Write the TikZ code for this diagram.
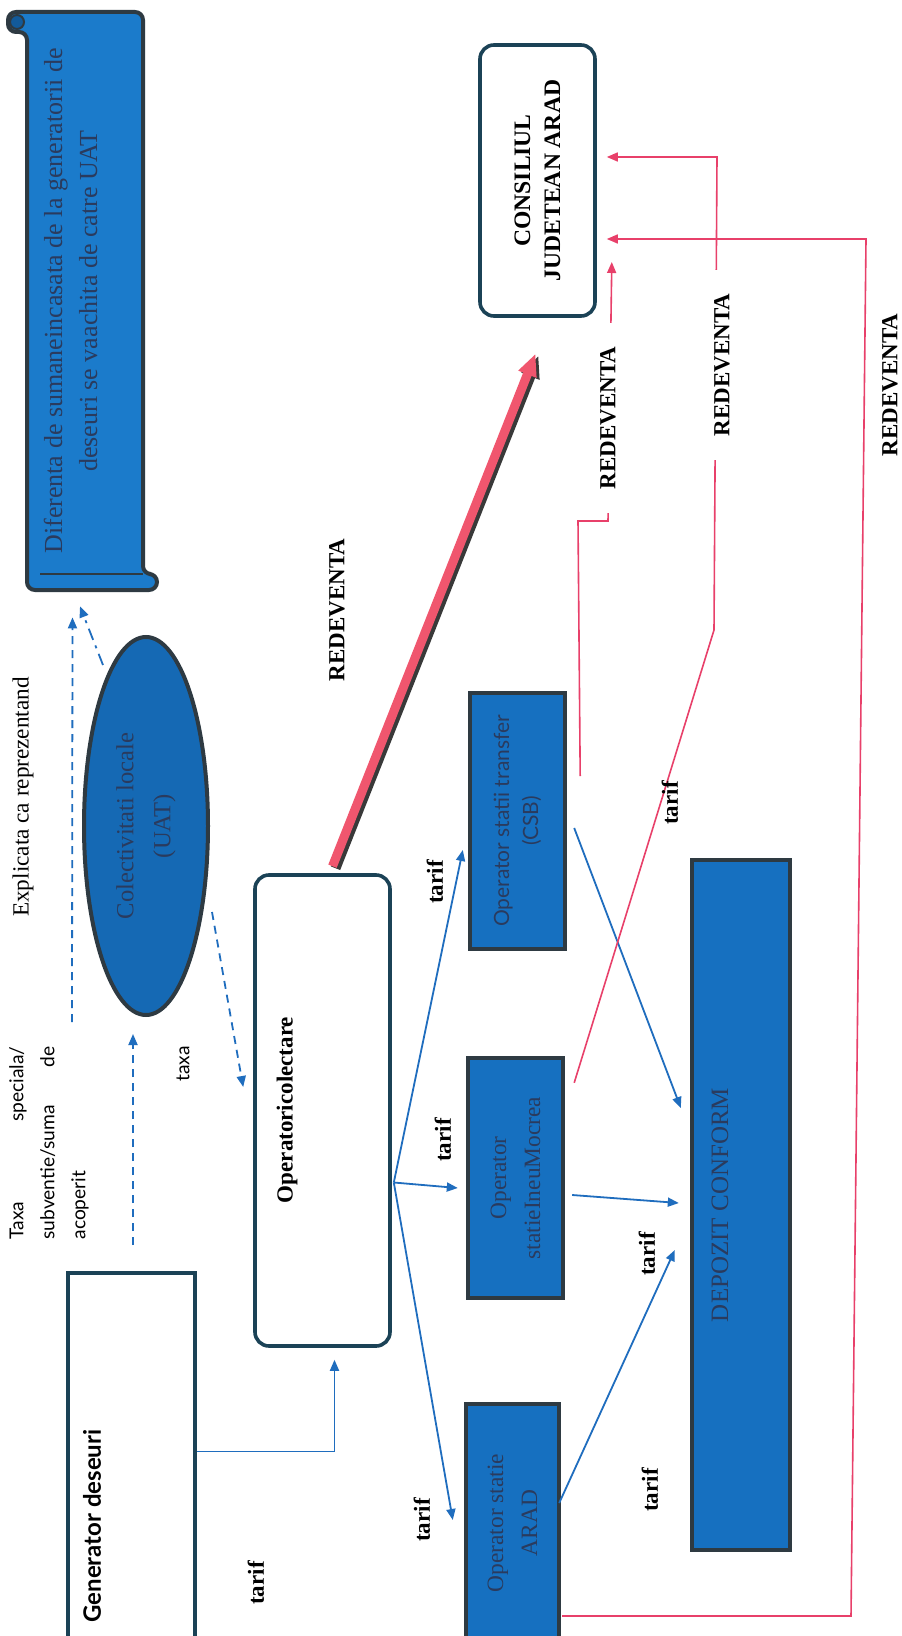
\documentclass[tikz,border=0pt]{standalone}
\usepackage{fontspec}
\setmainfont{Liberation Serif}
\setsansfont{Lato}
\usetikzlibrary{arrows.meta,calc,shapes.geometric}

\definecolor{boxblue}{HTML}{1670C0}
\definecolor{scrollblue}{HTML}{1B7BCB}
\definecolor{inkblue}{HTML}{2A3B5E}
\definecolor{edgegray}{HTML}{2E3A42}
\definecolor{edgeteal}{HTML}{1B4256}
\definecolor{flowblue}{HTML}{1F6DBE}
\definecolor{redev}{HTML}{E8406A}
\definecolor{redevthick}{HTML}{F0566E}

\tikzset{
  bluebox/.style={draw=edgegray, line width=2.2pt, fill=boxblue, rotate=90, text=inkblue, align=center, inner sep=0pt},
  whitebox/.style={draw=edgeteal, line width=1.8pt, fill=white, rotate=90, rounded corners=7pt, align=center, inner sep=0pt},
  lbl/.style={rotate=90, inner sep=0pt, font=\fontsize{11.5}{14}\selectfont},
  boldlbl/.style={lbl, font=\fontsize{11.5}{14}\selectfont\bfseries},
  flow/.style={draw=flowblue, line width=0.9pt, -{Triangle[length=5.5pt,width=4.5pt]}},
  dashflow/.style={flow, dash pattern=on 4pt off 3pt},
  redflow/.style={draw=redev, line width=0.8pt, -{Triangle[length=5.5pt,width=4.5pt]}},
}

\begin{document}
\begin{tikzpicture}[x=0.5pt, y=-0.5pt]
    \fill[white] (0,0) rectangle (901,1636);
    \useasboundingbox (0,0) rectangle (901,1636);

    % the scroll at the top left
    \filldraw[fill=scrollblue, draw=edgegray, line width=2pt, rounded corners=4pt]
        (8,12) -- (143,12) -- (143,574) -- (157,574) -- (157,590) -- (27,590) -- (27,32) -- (8,32) -- cycle;
    \filldraw[fill=boxblue!80!black, draw=edgegray, line width=1pt] (17,22) circle (7);
    \draw[edgegray, line width=1pt] (40,574) -- (143,574);
    \node[lbl, text=inkblue, align=center, minimum width=289pt, font=\fontsize{13}{17.5}\selectfont] (dif) at (70.5,301)
        {Diferenta de sumaneincasata de la generatorii de\\deseuri se vaachita de catre UAT};

    % these are the boxes
    \node[ellipse, draw=edgegray, line width=2pt, fill=boxblue!94!black, rotate=90, text=inkblue, align=center,
          minimum width=189pt, minimum height=62pt, inner sep=0pt, font=\fontsize{12.3}{18.5}\selectfont] (uat) at (146,826)
        {Colectivitati locale\\(UAT)};
    \node[whitebox, minimum width=235.5pt, minimum height=67.5pt] (opcol) at (322.5,1110.5) {};
    \node[draw=edgeteal, line width=1.8pt, fill=white, rotate=90, minimum width=263.5pt, minimum height=63.5pt] (gen) at (131.5,1536.5) {};
    \node[whitebox, minimum width=135.5pt, minimum height=57.5pt, font=\fontsize{11.8}{15}\selectfont\bfseries] (cj) at (537.5,180.5)
        {CONSILIUL\\JUDETEAN ARAD};
    \node[bluebox, minimum width=128pt, minimum height=47.5pt, font=\sffamily\fontsize{10.5}{14.5}\selectfont] (csb) at (517.5,821)
        {Operator statii transfer\\(CSB)};
    \node[bluebox, minimum width=120pt, minimum height=47.5pt, font=\fontsize{11.7}{17}\selectfont] (ineu) at (515.5,1178)
        {Operator\\statieIneuMocrea};
    \node[bluebox, minimum width=119pt, minimum height=46.5pt, font=\fontsize{11.7}{17}\selectfont] (arad) at (512.5,1523)
        {Operator statie\\ARAD};
    \node[bluebox, minimum width=345pt, minimum height=49pt] (depozit) at (741,1205) {};

    % texts
    \node[boldlbl] (opcoltxt) at (287,1110) {Operatoricolectare};
    \node[lbl, font=\sffamily\bfseries\fontsize{12}{14}\selectfont] (gentxt) at (92,1526) {Generator deseuri};
    \node[lbl, text=inkblue, font=\fontsize{12.5}{15}\selectfont] (deptxt) at (720,1205) {DEPOZIT CONFORM};
    \node[lbl, font=\fontsize{11.6}{14}\selectfont] (explic) at (23,797) {Explicata ca reprezentand};
    \node[lbl, font=\sffamily\fontsize{9.6}{15.5}\selectfont, text width=96.5pt, align=left] (taxablk) at (49,1143)
        {Taxa\hfill speciala/\\subventie/suma\hfill de\\acoperit};
    \node[lbl, font=\sffamily\fontsize{9.6}{12}\selectfont] (taxalbl) at (183,1064) {taxa};

    % dashed flows
    \draw[dashflow] ($(taxablk.east)+(23,-24)$) -- ($(dif.west)+(2,27)$);
    \draw[dashflow] ($(gen.east)+(1.5,-26)$) -- ($(uat.west)+(-13,17)$);
    \draw[flow, dash pattern=on 6pt off 3pt on 1.5pt off 3pt] ($(uat.east)+(-43,30)$) -- ($(dif.west)+(9.5,16)$);
    \draw[dashflow] ($(uat.south)+(2,86)$) -- ($(opcol.north)+(-10,-23.5)$);

    % blue flows
    \coordinate (fan) at ($(opcol.south)+(2,72)$);
    \draw[flow] ($(gen.south)+(0,-85)$) -| ($(opcol.west)+(12,12)$);
    \draw[flow] (fan) -- ($(csb.north)+(-5,29)$);
    \draw[flow] (fan) -- ($(ineu.north)+(-8,10)$);
    \draw[flow] (fan) -- ($(arad.north)+(-11,-3)$);
    \draw[flow] ($(csb.south)+(7,7)$) -- ($(depozit.north)+(-9,-97)$);
    \draw[flow] ($(ineu.south)+(7,17)$) -- ($(depozit.north)+(-11,-2)$);
    \draw[flow] ($(arad.south)+(-2,-20)$) -- ($(depozit.north)+(-15,45)$);

    % red flows
    \draw[line width=5pt, gray!45!black, -{Triangle[length=11pt,width=9pt]}] ($(opcol.east)+(13,-5)$) -- ($(cj.west)+(1,38)$);
    \draw[line width=4.5pt, redevthick, -{Triangle[length=11pt,width=9pt]}] ($(opcol.east)+(10,-7)$) -- ($(cj.west)+(-2,36)$);
    \draw[redflow] ($(ineu.south east)+(9,27)$) -- (714,630) -- (717,157) -- ($(cj.south)+(10,-23.5)$);
    \draw[redflow] ($(arad.south)+(1,93)$) -- (851,1616) -- (866,239) -- ($(cj.south)+(10,58.5)$);
    \draw[redflow] ($(csb.south)+(13,-45)$) -- (578,521) -- (608,521) -- ($(cj.south)+(15,81.5)$);

    % labels
    \node[boldlbl] (redthick) at (337,610) {REDEVENTA};
    \node[boldlbl, fill=white, inner xsep=12pt, inner ysep=2pt] (redA) at (722,365) {REDEVENTA};
    \node[boldlbl] (redB) at (890,385) {REDEVENTA};
    \node[boldlbl, fill=white, inner xsep=12pt, inner ysep=2pt] (redC) at (608,418) {REDEVENTA};
    \node[boldlbl] (tarif1) at (435,882) {tarif};
    \node[boldlbl] (tarif2) at (443,1140) {tarif};
    \node[boldlbl] (tarif3) at (422,1520) {tarif};
    \node[boldlbl] (tarif4) at (647,1254) {tarif};
    \node[boldlbl] (tarif5) at (650,1490) {tarif};
    \node[boldlbl] (tarif6) at (670,803) {tarif};
    \node[boldlbl] (tarif7) at (256,1583) {tarif};

\end{tikzpicture}
\end{document}
